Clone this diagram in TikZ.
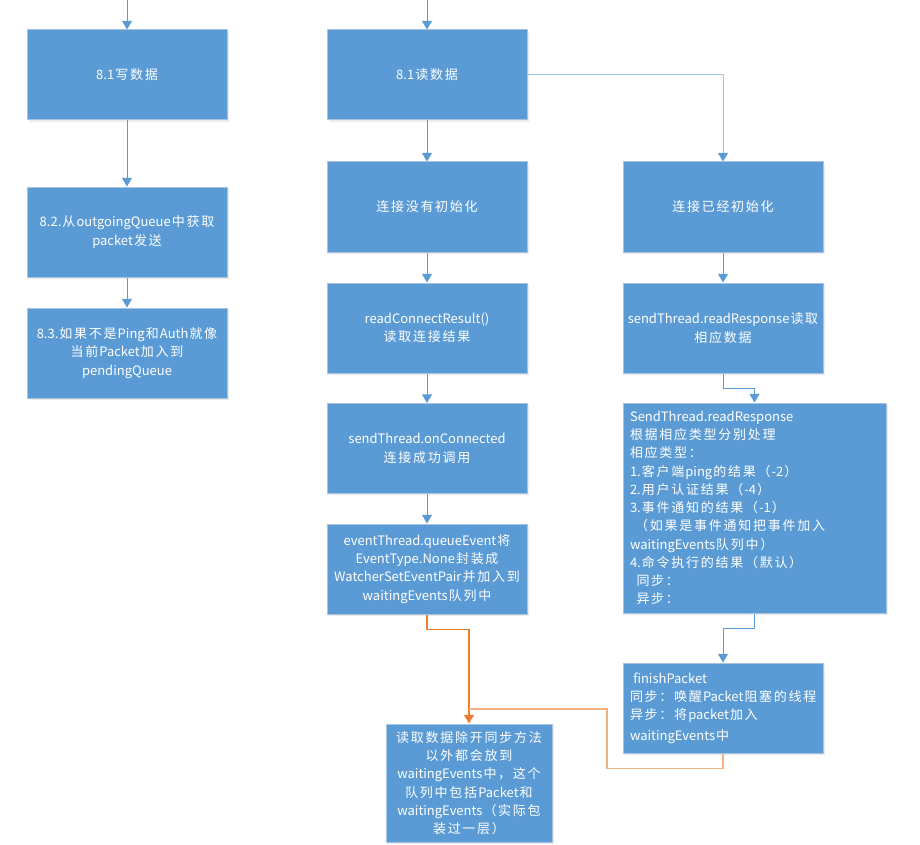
\documentclass[tikz,border=0pt]{standalone}
\usepackage{fontspec}
\setmainfont{Noto Sans CJK SC}
\usetikzlibrary{arrows.meta,shadows}
\makeatletter
\count@="3000
\loop \XeTeXcharclass\count@=7 \ifnum\count@<"303F \advance\count@ 1 \repeat
\count@="4E00
\loop \XeTeXcharclass\count@=7 \ifnum\count@<"9FFF \advance\count@ 1 \repeat
\count@="FF00
\loop \XeTeXcharclass\count@=7 \ifnum\count@<"FF5F \advance\count@ 1 \repeat
\makeatother
\XeTeXinterchartokenstate=1
\XeTeXinterchartoks 7 7 = {\nobreak\hskip1.3pt\relax}
\XeTeXinterchartoks 0 7 = {\nobreak\hskip0.8pt\relax}
\XeTeXinterchartoks 7 0 = {\nobreak\hskip0.8pt\relax}
\definecolor{boxblue}{HTML}{5B9BD5}
\definecolor{boxedge}{HTML}{A7C3E2}
\definecolor{lineblue}{HTML}{5B9BD5}
\definecolor{lightline}{HTML}{9DC3E6}
\definecolor{orangeA}{HTML}{ED7D31}
\definecolor{orangeB}{HTML}{F4B183}
\begin{document}
\begin{tikzpicture}[x=0.75pt,y=-0.75pt,
  box/.style={rectangle, fill=boxblue, draw=boxedge, line width=0.75pt, text=white,
    font=\fontsize{9.75pt}{13.7pt}\selectfont, inner sep=0pt,
    drop shadow={opacity=0.15, shadow xshift=1.2pt, shadow yshift=-1.2pt}},
  stdbox/.style={box, minimum width=150pt, minimum height=67.5pt, align=center},
  flow/.style={draw=lineblue, line width=0.75pt, -{Triangle[width=7.5pt,length=6.5pt]}},
  flowlight/.style={draw=lightline, line width=0.75pt, -{Triangle[width=7.5pt,length=6.5pt,color=lineblue]}},
  oflow/.style={draw=orangeA, line width=0.8pt, -{Triangle[width=7.5pt,length=6.5pt]}},
  oline/.style={draw=orangeB, line width=0.8pt}
]
\useasboundingbox (0,0) rectangle (920,845);
% left column
\coordinate (t1) at (127,0);
\node[stdbox] (w1) at (127,75) {8.1写数据};
\node[stdbox] (w2) at (127,232) {8.2.从outgoingQueue中获取\\packet发送};
\node[stdbox] (w3) at (127,353) {8.3.如果不是Ping和Auth就像\\当前Packet加入到\\pendingQueue};
% middle column
\coordinate (t2) at (427,0);
\node[stdbox] (r1) at (427,75) {8.1读数据};
\node[stdbox] (n1) at (427,207) {连接没有初始化};
\node[stdbox] (n2) at (427,328) {readConnectResult()\\读取连接结果};
\node[stdbox] (n3) at (427,448.5) {sendThread.onConnected\\连接成功调用};
\node[stdbox] (n4) at (427,569) {eventThread.queueEvent将\\EventType.None封装成\\WatcherSetEventPair并加入到\\waitingEvents队列中};
% right column
\node[stdbox] (c1) at (723,207) {连接已经初始化};
\node[stdbox] (c2) at (723,328) {sendThread.readResponse读取\\相应数据};
\node[box, minimum width=197.25pt, minimum height=157.5pt, text width=186.75pt, align=left] (c3) at (754.5,508)
 {SendThread.readResponse\\根据相应类型分别处理\\相应类型：\\1.客户端ping的结果（-2）\\2.用户认证结果（-4）\\3.事件通知的结果（-1）\\\hspace*{0.4em}（如果是事件通知把事件加入\\waitingEvents队列中）\\4.命令执行的结果（默认）\\\hspace*{0.5em}同步：\\\hspace*{0.5em}异步：};
\node[box, minimum width=150pt, minimum height=67.5pt, text width=139.5pt, align=left] (c4) at (723,708)
 {\hspace*{0.25em}finishPacket\\同步：唤醒Packet阻塞的线程\\异步：将packet加入\\[1.5pt]waitingEvents中};
% bottom
\node[box, minimum width=124.5pt, minimum height=88.5pt, align=center] (b) at (469,783)
 {读取数据除开同步方法\\以外都会放到\\waitingEvents中，这个\\队列中包括Packet和\\waitingEvents（实际包\\装过一层）};
% connectors
\draw[flow] (t1) -- (w1);
\draw[flow] (w1) -- (w2);
\draw[flow] (w2) -- (w3);
\draw[flow] (t2) -- (r1);
\draw[flow] (r1) -- (n1);
\draw[flow] (n1) -- (n2);
\draw[flow] (n2) -- (n3);
\draw[flow] (n3) -- (n4);
\draw[flowlight] (r1.east) -| (c1.north);
\draw[flow] (c1) -- (c2);
\draw[flow] (c2.south) -- ++(0,15) -| (c3.north);
\draw[flow] (c3.south) -- ++(0,15) -| (c4.north);
\draw[oflow] (n4.south) -- ++(0,15) -| (b.north);
\coordinate (j) at (469,709);
\draw[oline] (c4.south) -- ++(0,15) -| (607,709) -- (j);
\end{tikzpicture}
\end{document}
